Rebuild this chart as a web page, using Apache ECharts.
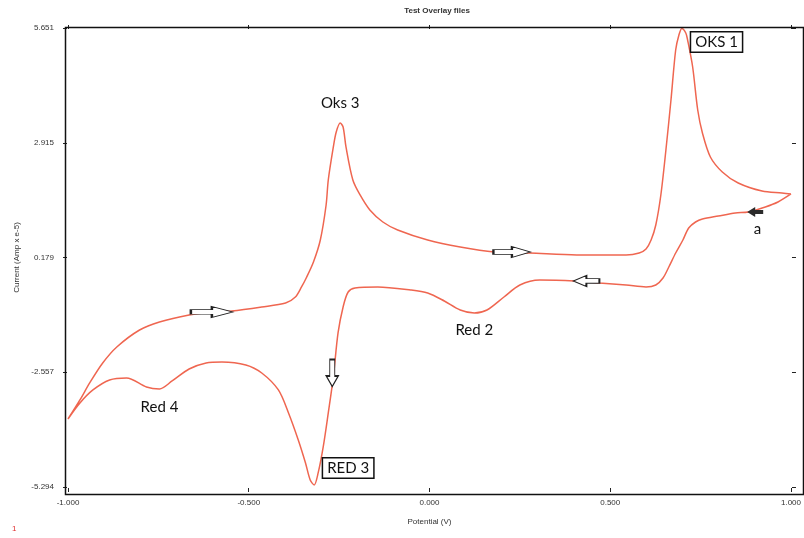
<!DOCTYPE html>
<html>
<head>
<meta charset="utf-8">
<script src="https://cdn.jsdelivr.net/npm/echarts@6/dist/echarts.min.js"></script>
<style>
  html, body { margin: 0; padding: 0; background: #ffffff; }
  #chart { width: 804px; height: 538px; }
</style>
</head>
<body>
<div id="chart"></div>
<script>
// Cyclic voltammogram: scan starts at +1.0 V, runs cathodic (lower branch)
// down to -1.0 V, then anodic (upper branch) back to +1.0 V.
const potential = [
  1.000, 0.964, 0.929, 0.882, 0.846, 0.799, 0.755, 0.736, 0.717, 0.701,
  0.681, 0.662, 0.646, 0.626, 0.599, 0.544, 0.470, 0.401, 0.305, 0.250,
  0.206, 0.159, 0.124, 0.085, 0.041, -0.005, -0.052, -0.143, -0.206, -0.225,
  -0.239, -0.253, -0.266, -0.280, -0.294, -0.308, -0.319, -0.330, -0.343, -0.363,
  -0.390, -0.418, -0.464, -0.508, -0.574, -0.618, -0.665, -0.712, -0.747, -0.783,
  -0.838, -0.885, -0.931, -0.967, -1.000,
  -0.967, -0.940, -0.904, -0.865, -0.802, -0.747, -0.665, -0.602, -0.547, -0.464,
  -0.398, -0.371, -0.354, -0.341, -0.321, -0.302, -0.286, -0.280, -0.266, -0.258,
  -0.247, -0.239, -0.231, -0.212, -0.192, -0.165, -0.129, -0.088, -0.005, 0.085,
  0.179, 0.277, 0.407, 0.544, 0.580, 0.599, 0.613, 0.626, 0.640, 0.654,
  0.668, 0.681, 0.690, 0.698, 0.709, 0.714, 0.728, 0.742, 0.755, 0.777,
  0.810, 0.854, 0.920, 0.975, 1.000
];
const current = [
  1.693, 1.502, 1.383, 1.264, 1.240, 1.168, 1.097, 1.025, 0.882, 0.596,
  0.286, -0.048, -0.310, -0.477, -0.524, -0.477, -0.429, -0.381, -0.358, -0.477,
  -0.763, -1.073, -1.144, -1.073, -0.858, -0.668, -0.596, -0.524, -0.548, -0.644,
  -1.001, -1.621, -2.670, -3.529, -4.339, -4.959, -5.245, -5.126, -4.721, -4.173,
  -3.529, -2.980, -2.575, -2.384, -2.313, -2.337, -2.480, -2.766, -2.957, -2.909,
  -2.694, -2.742, -2.980, -3.290, -3.672,
  -3.219, -2.813, -2.337, -1.955, -1.550, -1.359, -1.192, -1.121, -1.097, -1.001,
  -0.906, -0.763, -0.524, -0.310, 0.072, 0.596, 1.431, 2.027, 2.814, 3.171,
  3.386, 3.290, 2.814, 2.027, 1.669, 1.311, 1.025, 0.835, 0.596, 0.429,
  0.310, 0.286, 0.239, 0.239, 0.286, 0.382, 0.596, 0.954, 1.669, 2.742,
  3.934, 5.126, 5.484, 5.640, 5.532, 5.365, 4.721, 3.696, 3.147, 2.575,
  2.218, 1.955, 1.764, 1.717, 1.693
];

const xTickLabels = ['-1.000', '-0.500', '0.000', '0.500', '1.000'];
const yTickLabels = ['-5.294', '-2.557', '0.179', '2.915', '5.651'];
const xRange = [-1, 1];
const yRange = [-5.294, 5.651];

const curveColor = '#ef6650';
const tickFont = 'Liberation Sans, Arial, sans-serif';
const noteFont = 'Lato, "Open Sans", sans-serif';

// block arrow pointing right; rotated for the other directions
const arrowShort = 'path://M0,3.5 L10,3.5 L10,0 L20,6 L10,12 L10,8.5 L0,8.5 Z';
const arrowLong = 'path://M0,3.5 L16,3.5 L16,0 L26,6 L16,12 L16,8.5 L0,8.5 Z';

const hollow = { color: '#ffffff', borderColor: '#222222', borderWidth: 1.3 };

const chart = echarts.init(document.getElementById('chart'), null, { renderer: 'canvas' });

const textNote = (name, coord, boxed) => ({
  name: name,
  coord: coord,
  symbol: 'rect',
  symbolSize: 0,
  label: Object.assign({
    show: true,
    position: 'inside',
    formatter: name,
    fontFamily: noteFont,
    fontSize: 15,
    color: '#111111'
  }, boxed ? {
    borderColor: '#111111',
    borderWidth: 1.5,
    padding: [3, 4, 1, 4],
    backgroundColor: '#ffffff'
  } : {})
});

const arrowMark = (coord, path, size, rotate, style) => ({
  coord: coord,
  symbol: path,
  symbolSize: size,
  symbolRotate: rotate,
  itemStyle: style,
  label: { show: false }
});

const tickStyle = { show: true, inside: true, length: 4, lineStyle: { color: '#222222', width: 1 } };
const hiddenLine = { show: false, onZero: false };

chart.setOption({
  animation: false,
  backgroundColor: '#ffffff',
  title: {
    text: 'Test Overlay files',
    left: 432,
    textAlign: 'center',
    top: 2,
    textStyle: { fontFamily: tickFont, fontSize: 8, fontWeight: 'bold', color: '#333333' }
  },
  grid: { left: 68, right: 8, top: 28, bottom: 51, containLabel: false },
  xAxis: [
    {
      type: 'value', position: 'bottom', min: xRange[0], max: xRange[1], interval: 0.5,
      offset: 5,
      axisLine: hiddenLine,
      axisTick: tickStyle,
      splitLine: { show: false },
      axisLabel: {
        margin: 7, fontFamily: tickFont, fontSize: 8, color: '#333333',
        formatter: (v) => xTickLabels[Math.round((v - xRange[0]) / 0.5)]
      },
      name: 'Potential (V)', nameLocation: 'middle', nameGap: 26,
      nameTextStyle: { fontFamily: tickFont, fontSize: 8, color: '#333333' }
    },
    {
      type: 'value', position: 'top', min: xRange[0], max: xRange[1], interval: 0.5,
      offset: 3,
      axisLine: hiddenLine,
      axisTick: tickStyle,
      splitLine: { show: false },
      axisLabel: { show: false }
    }
  ],
  yAxis: [
    {
      type: 'value', min: yRange[0], max: yRange[1],
      axisLine: hiddenLine, axisTick: { show: false },
      axisLabel: { show: false }, splitLine: { show: false }
    },
    {
      type: 'category', position: 'left', data: yTickLabels, boundaryGap: false,
      offset: 5,
      axisLine: hiddenLine,
      axisTick: tickStyle,
      splitLine: { show: false },
      axisLabel: { margin: 9, fontFamily: tickFont, fontSize: 8, color: '#333333' },
      name: 'Current (Amp x e-5)', nameLocation: 'middle', nameGap: 42,
      nameTextStyle: { fontFamily: tickFont, fontSize: 8, color: '#333333' }
    },
    {
      type: 'category', position: 'right', data: yTickLabels, boundaryGap: false,
      offset: 5,
      axisLine: hiddenLine,
      axisTick: tickStyle,
      splitLine: { show: false },
      axisLabel: { show: false }
    }
  ],
  graphic: [
    {
      type: 'rect', left: 63, top: 25, z: 10, silent: true,
      shape: { width: 738, height: 467 },
      style: { fill: 'none', stroke: '#111111', lineWidth: 1.5 }
    },
    {
      type: 'text', left: 12, top: 525,
      style: { text: '1', fill: '#e03030', font: '8px Liberation Sans, Arial, sans-serif' }
    }
  ],
  series: [
    {
      type: 'line',
      xAxisIndex: 0,
      yAxisIndex: 0,
      data: potential.map((p, i) => [p, current[i]]),
      showSymbol: false,
      smooth: 0.3,
      lineStyle: { color: curveColor, width: 1.5 },
      markPoint: {
        silent: true,
        data: [
          textNote('OKS 1', [0.794, 5.317], true),
          textNote('Oks 3', [-0.247, 3.863], false),
          textNote('Red 2', [0.124, -1.550], false),
          textNote('RED 3', [-0.225, -4.840], true),
          textNote('Red 4', [-0.747, -3.386], false),
          textNote('a', [0.907, 0.858], false),
          arrowMark([-0.602, -1.121], arrowShort, [42, 11], 0, hollow),
          arrowMark([0.228, 0.310], arrowShort, [37, 11], 0, hollow),
          arrowMark([0.434, -0.381], arrowShort, [26, 11], 180, hollow),
          arrowMark([-0.269, -2.575], arrowLong, [27, 12], -90, hollow),
          arrowMark([0.901, 1.264], arrowShort, [16, 10], 180, { color: '#2a2a2a' })
        ]
      }
    }
  ]
});
</script>
</body>
</html>
